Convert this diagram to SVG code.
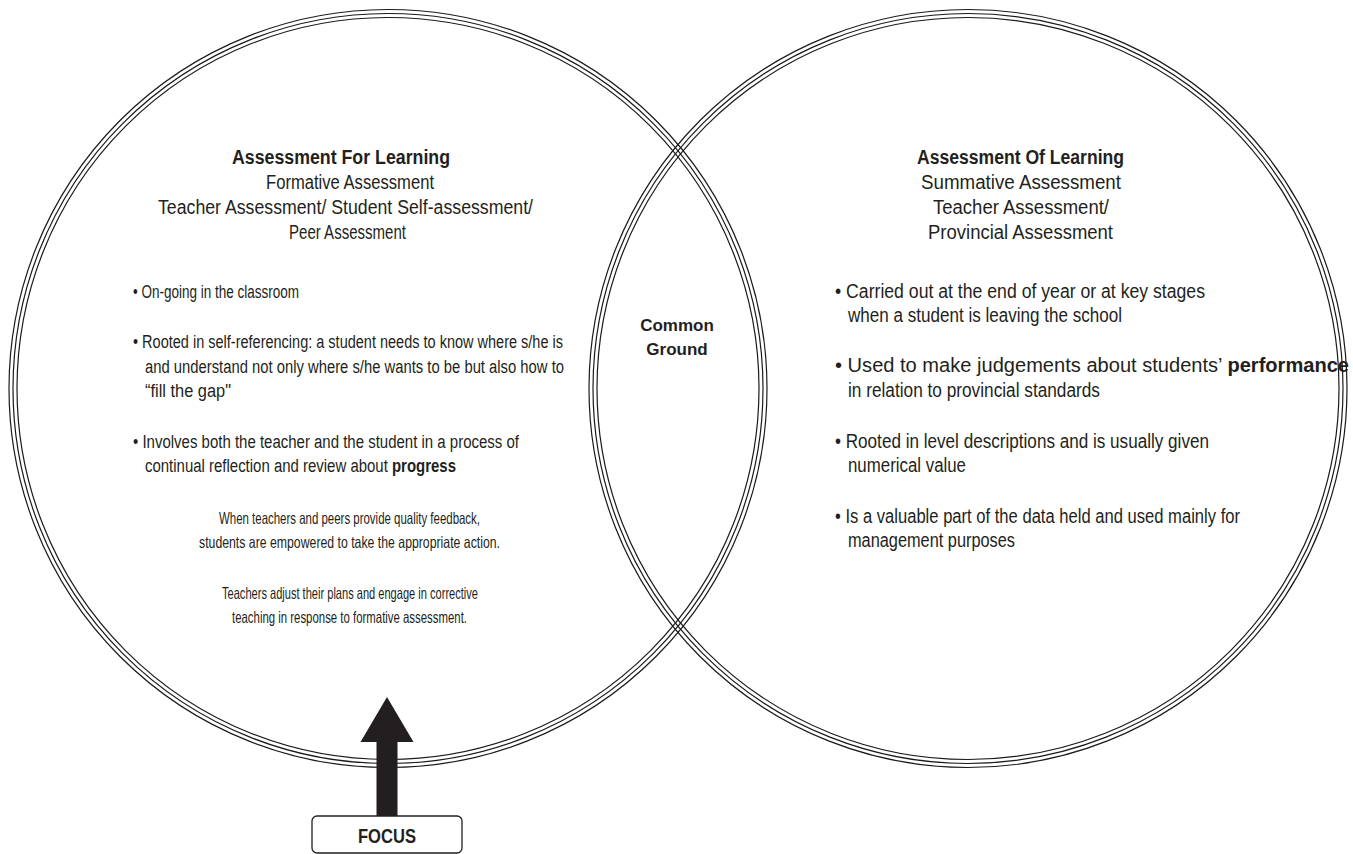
<svg xmlns="http://www.w3.org/2000/svg" width="1353" height="854" viewBox="0 0 1353 854">
<style>
.ring{fill:none;stroke:#1a1a1a;stroke-width:1.2}
.t{font-family:"Liberation Sans",Arial,sans-serif;font-size:20px;fill:#231f20}
.s{font-size:18px}
.xs{font-size:16.5px}
.b{font-weight:bold}
.cg{font-family:"Liberation Sans",Arial,sans-serif;font-size:17px;font-weight:bold;fill:#231f20;text-anchor:middle}
</style>
<rect width="1353" height="854" fill="#ffffff"/>
<g id="circle-left">
<circle class="ring" cx="388" cy="388.5" r="379"/>
<circle class="ring" cx="388" cy="388.5" r="375"/>
<circle class="ring" cx="388" cy="388.5" r="371"/>
</g>
<g id="circle-right">
<circle class="ring" cx="968" cy="388.5" r="379"/>
<circle class="ring" cx="968" cy="388.5" r="375"/>
<circle class="ring" cx="968" cy="388.5" r="371"/>
</g>
<g id="node-afl">
<text class="t b" x="232" y="164" textLength="218" lengthAdjust="spacingAndGlyphs">Assessment For Learning</text>
<text class="t" x="266" y="189" textLength="168" lengthAdjust="spacingAndGlyphs">Formative Assessment</text>
<text class="t" x="158" y="214" textLength="375" lengthAdjust="spacingAndGlyphs">Teacher Assessment/ Student Self-assessment/</text>
<text class="t" x="289" y="239" textLength="117" lengthAdjust="spacingAndGlyphs">Peer Assessment</text>
<text class="t s" x="133" y="298" textLength="166" lengthAdjust="spacingAndGlyphs">• On-going in the classroom</text>
<text class="t s" x="133" y="348" textLength="430" lengthAdjust="spacingAndGlyphs">• Rooted in self-referencing: a student needs to know where s/he is</text>
<text class="t s" x="145" y="373" textLength="419" lengthAdjust="spacingAndGlyphs">and understand not only where s/he wants to be but also how to</text>
<text class="t s" x="145" y="397" textLength="86" lengthAdjust="spacingAndGlyphs">“fill the gap"</text>
<text class="t s" x="133" y="448" textLength="386" lengthAdjust="spacingAndGlyphs">• Involves both the teacher and the student in a process of</text>
<text class="t s" x="145" y="472" textLength="311" lengthAdjust="spacingAndGlyphs">continual reflection and review about <tspan class="b">progress</tspan></text>
<text class="t xs" x="219" y="524" textLength="261" lengthAdjust="spacingAndGlyphs">When teachers and peers provide quality feedback,</text>
<text class="t xs" x="199" y="548" textLength="301" lengthAdjust="spacingAndGlyphs">students are empowered to take the appropriate action.</text>
<text class="t xs" x="222" y="599" textLength="256" lengthAdjust="spacingAndGlyphs">Teachers adjust their plans and engage in corrective</text>
<text class="t xs" x="232" y="623" textLength="235" lengthAdjust="spacingAndGlyphs">teaching in response to formative assessment.</text>
</g>
<g id="node-common">
<text class="cg" x="677" y="331">Common</text>
<text class="cg" x="677" y="355">Ground</text>
</g>
<g id="node-aol">
<text class="t b" x="917" y="164" textLength="207" lengthAdjust="spacingAndGlyphs">Assessment Of Learning</text>
<text class="t" x="921" y="189" textLength="200" lengthAdjust="spacingAndGlyphs">Summative Assessment</text>
<text class="t" x="933" y="214" textLength="176" lengthAdjust="spacingAndGlyphs">Teacher Assessment/</text>
<text class="t" x="928" y="239" textLength="185" lengthAdjust="spacingAndGlyphs">Provincial Assessment</text>
<text class="t" x="835" y="298" textLength="370" lengthAdjust="spacingAndGlyphs">• Carried out at the end of year or at key stages</text>
<text class="t" x="848" y="322" textLength="274" lengthAdjust="spacingAndGlyphs">when a student is leaving the school</text>
<text class="t" x="835" y="372" textLength="514" lengthAdjust="spacingAndGlyphs">• Used to make judgements about students’ <tspan class="b">performance</tspan></text>
<text class="t" x="848" y="397" textLength="252" lengthAdjust="spacingAndGlyphs">in relation to provincial standards</text>
<text class="t" x="835" y="448" textLength="374" lengthAdjust="spacingAndGlyphs">• Rooted in level descriptions and is usually given</text>
<text class="t" x="848" y="472" textLength="118" lengthAdjust="spacingAndGlyphs">numerical value</text>
<text class="t" x="835" y="523" textLength="405" lengthAdjust="spacingAndGlyphs">• Is a valuable part of the data held and used mainly for</text>
<text class="t" x="848" y="547" textLength="167" lengthAdjust="spacingAndGlyphs">management purposes</text>
</g>
<g id="connectors">
<polygon points="387,697 413.5,742 397.5,742 397.5,816 376.5,816 376.5,742 360.5,742" fill="#231f20"/>
</g>
<g id="node-focus">
<rect x="312" y="816" width="150" height="37" rx="5" ry="5" fill="#ffffff" stroke="#231f20" stroke-width="1.3"/>
<text class="t b" x="358" y="843" textLength="58" lengthAdjust="spacingAndGlyphs">FOCUS</text>
</g>
</svg>
